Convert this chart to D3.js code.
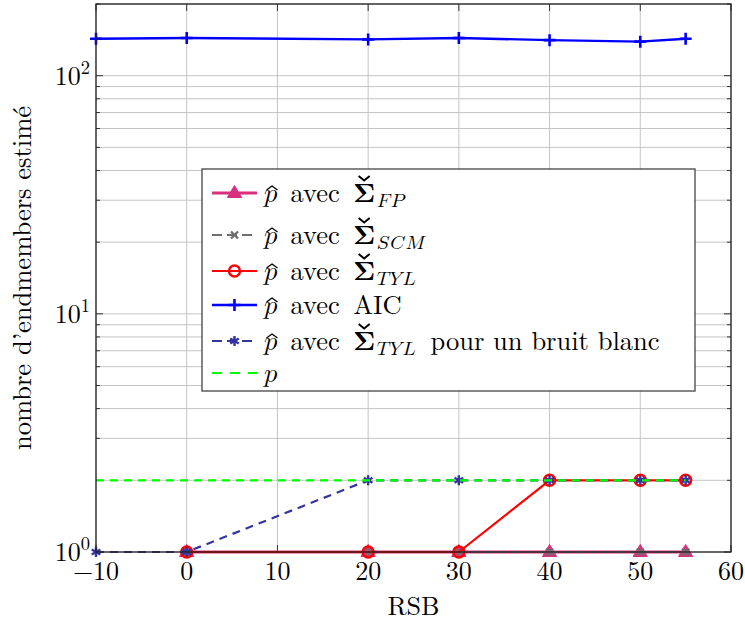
<!DOCTYPE html>
<html><head><meta charset="utf-8">
<script src="https://cdn.jsdelivr.net/npm/d3@7"></script>
<style>body{margin:0;background:#fff}svg{display:block}</style>
</head><body><div id="chart"></div>
<script>
// ---- data ----
const xAll = [-10, 0, 20, 30, 40, 50, 55];
const xFrom0 = [0, 20, 30, 40, 50, 55];
const yFP = [1, 1, 1, 1, 1, 1];
const ySCM = [1, 1, 1, 1, 1, 1];
const yTYL = [1, 1, 1, 2, 2, 2];
const yAIC = [143, 144, 142, 144, 141, 139, 143];
const yWhite = [1, 1, 2, 2, 2, 2, 2];
const yP = [2, 2, 2, 2, 2, 2, 2];
const xTicks = [-10, 0, 10, 20, 30, 40, 50, 60];
const yMajor = [1, 10, 100];
const legendSubs = ["FP", "SCM", "TYL", null, "TYL", null];

const FONT = "'Latin Modern Roman', 'DejaVu Serif', serif";
const MATH = "'Latin Modern Math', 'Latin Modern Roman', serif";
const W = 745, H = 625;
const m = {l: 96, r: 731, t: 4, b: 552};
const svg = d3.select("#chart").append("svg").attr("width", W).attr("height", H)
  .style("font-family", FONT);
const x = d3.scaleLinear().domain([-10, 60]).range([m.l, m.r]);
const y = d3.scaleLog().domain([1, 200]).range([m.b, m.t]);

// math italic capital letters (Unicode Mathematical Alphanumerics)
const mathIt = s => Array.from(s).map(c => String.fromCodePoint(0x1D434 + c.charCodeAt(0) - 65)).join("");

// grid
const minors = [];
for (let d = 1; d <= 100; d *= 10) for (let k = 2; k <= 9; k++) if (d * k <= 200) minors.push(d * k);
const g = svg.append("g");
g.selectAll(".ym").data(minors.concat(yMajor)).join("line")
  .attr("x1", m.l).attr("x2", m.r).attr("y1", d => y(d)).attr("y2", d => y(d))
  .attr("stroke", "#c4c4c4").attr("stroke-width", 1);
g.selectAll(".xm").data(xTicks).join("line")
  .attr("x1", d => x(d)).attr("x2", d => x(d)).attr("y1", m.t).attr("y2", m.b)
  .attr("stroke", "#c4c4c4").attr("stroke-width", 1);

// ticks inward
const tk = svg.append("g").attr("stroke", "#333").attr("stroke-width", 1);
xTicks.forEach(v => {
  tk.append("line").attr("x1", x(v)).attr("x2", x(v)).attr("y1", m.b).attr("y2", m.b - 7);
  tk.append("line").attr("x1", x(v)).attr("x2", x(v)).attr("y1", m.t).attr("y2", m.t + 7);
});
yMajor.forEach(v => {
  tk.append("line").attr("x1", m.l).attr("x2", m.l + 7).attr("y1", y(v)).attr("y2", y(v));
  tk.append("line").attr("x1", m.r).attr("x2", m.r - 7).attr("y1", y(v)).attr("y2", y(v));
});
minors.forEach(v => {
  tk.append("line").attr("x1", m.l).attr("x2", m.l + 4).attr("y1", y(v)).attr("y2", y(v));
  tk.append("line").attr("x1", m.r).attr("x2", m.r - 4).attr("y1", y(v)).attr("y2", y(v));
});

// tick labels
svg.selectAll(".xl").data(xTicks).join("text")
  .attr("x", d => x(d)).attr("y", m.b + 28).attr("text-anchor", "middle")
  .style("font-size", "26px").text(d => d < 0 ? "\u2212" + Math.abs(d) : d);
yMajor.forEach(v => {
  const t = svg.append("text").attr("x", m.l - 6).attr("y", y(v) + 9).attr("text-anchor", "end").style("font-size", "26px");
  t.append("tspan").text("10");
  t.append("tspan").attr("dy", -11).style("font-size", "18.5px").text(String(Math.round(Math.log10(v))));
});

// axis titles
svg.append("text").attr("x", (m.l + m.r) / 2).attr("y", 615).attr("text-anchor", "middle").style("font-size", "26px").text("RSB");
svg.append("text").attr("transform", `translate(31,${(m.t + m.b) / 2}) rotate(-90)`).attr("text-anchor", "middle")
  .style("font-size", "26.5px").text("nombre d\u2019endmembers estim\u00e9");

// series
const series = [
  {name: "FP", xs: xFrom0, ys: yFP, color: "#d6307e", width: 3.2, dash: null, ldash: null, marker: "tri"},
  {name: "SCM", xs: xFrom0, ys: ySCM, color: "#6e6e6e", width: 2, dash: "7,6", ldash: "10,5", marker: "x"},
  {name: "TYL", xs: xFrom0, ys: yTYL, color: "#ff0000", width: 2.2, dash: null, ldash: null, marker: "circ"},
  {name: "AIC", xs: xAll, ys: yAIC, color: "#0000ff", width: 2.4, dash: null, ldash: null, marker: "plus"},
  {name: "white", xs: xAll, ys: yWhite, color: "#3535a0", width: 2.2, dash: "8,6", ldash: "10,5", marker: "star"},
  {name: "p", xs: xAll, ys: yP, color: "#00ff00", width: 2.2, dash: "8,6", ldash: "10,8", marker: null}
];
const line = d3.line().x(d => x(d[0])).y(d => y(d[1]));

function drawMarker(sel, type, cx, cy, color) {
  if (type === "tri") {
    const s = 7.5;
    sel.append("path").attr("d", `M${cx},${cy - s}L${cx + s * 0.95},${cy + s * 0.6}L${cx - s * 0.95},${cy + s * 0.6}Z`).attr("fill", color).attr("stroke", color).attr("stroke-width", 1);
  } else if (type === "x") {
    const s = 3.5;
    sel.append("path").attr("d", `M${cx - s},${cy - s}L${cx + s},${cy + s}M${cx - s},${cy + s}L${cx + s},${cy - s}`).attr("stroke", color).attr("stroke-width", 2.4);
  } else if (type === "circ") {
    sel.append("circle").attr("cx", cx).attr("cy", cy).attr("r", 5.5).attr("fill", "none").attr("stroke", color).attr("stroke-width", 2.4);
  } else if (type === "plus") {
    const s = 6;
    sel.append("path").attr("d", `M${cx - s},${cy}L${cx + s},${cy}M${cx},${cy - s}L${cx},${cy + s}`).attr("stroke", color).attr("stroke-width", 2.6);
  } else if (type === "star") {
    const s = 5;
    let d = "";
    for (let k = 0; k < 3; k++) {
      const a = Math.PI / 2 + k * Math.PI / 3;
      d += `M${cx + s * Math.cos(a)},${cy - s * Math.sin(a)}L${cx - s * Math.cos(a)},${cy + s * Math.sin(a)}`;
    }
    sel.append("path").attr("d", d).attr("stroke", color).attr("stroke-width", 2.4);
  }
}

const plot = svg.append("g");
series.forEach(s => {
  const pts = s.xs.map((v, i) => [v, s.ys[i]]);
  plot.append("path").datum(pts).attr("d", line).attr("fill", "none")
    .attr("stroke", s.color).attr("stroke-width", s.width).attr("stroke-dasharray", s.dash);
  if (s.marker) pts.forEach(p => drawMarker(plot, s.marker, x(p[0]), y(p[1]), s.color));
});

// frame
svg.append("rect").attr("x", m.l).attr("y", m.t).attr("width", m.r - m.l).attr("height", m.b - m.t)
  .attr("fill", "none").attr("stroke", "#222").attr("stroke-width", 1.3);

// legend
const lg = svg.append("g");
lg.append("rect").attr("x", 202).attr("y", 169).attr("width", 493).attr("height", 222)
  .attr("fill", "#fff").attr("stroke", "#444").attr("stroke-width", 1.3);
const rowsY = [193, 235, 271, 305, 341, 373];

function piece(px, py, str, size, fam, weight, ls) {
  const t = lg.append("text").attr("x", px).attr("y", py).style("font-size", size + "px")
    .style("font-family", fam || FONT).style("font-weight", weight || "normal").text(str);
  if (ls) t.attr("letter-spacing", ls + "px");
  return t.node().getComputedTextLength();
}
function hat(px, py, w) {
  lg.append("path").attr("d", `M${px - w / 2},${py + 4}L${px},${py}L${px + w / 2},${py + 4}`)
    .attr("fill", "none").attr("stroke", "#000").attr("stroke-width", 1.3);
}
function caron(px, py, w) {
  lg.append("path").attr("d", `M${px - w / 2},${py}L${px},${py + 4.5}L${px + w / 2},${py}`)
    .attr("fill", "none").attr("stroke", "#000").attr("stroke-width", 2);
}
const pIt = String.fromCodePoint(0x1D45D);

series.forEach((s, i) => {
  const cy = rowsY[i];
  lg.append("line").attr("x1", 212).attr("x2", 257).attr("y1", cy).attr("y2", cy)
    .attr("stroke", s.color).attr("stroke-width", s.width).attr("stroke-dasharray", s.ldash);
  if (s.marker) drawMarker(lg, s.marker, 234.5, cy, s.color);
  const base = cy + 9;
  let cx = 264;
  if (i === 5) { piece(cx, base, pIt, 26.5, MATH); return; }
  const pw = piece(cx, base, pIt, 26.5, MATH);
  hat(cx + pw * 0.6, base - 16, 11);
  cx += pw;
  cx += piece(cx, base, "\u00a0avec\u00a0", 26.5);
  if (i === 3) { piece(cx, base, "AIC", 26.5); return; }
  const sw = piece(cx, base, "\u03A3", 26.5, FONT, "bold");
  caron(cx + sw / 2, base - 26, 11);
  cx += sw + 1.5;
  cx += piece(cx, base + 5, mathIt(legendSubs[i]), 19.5, MATH, "normal", 1.5);
  if (i === 4) piece(cx, base, "\u00a0pour un bruit blanc", 26.5);
});
</script></body></html>
